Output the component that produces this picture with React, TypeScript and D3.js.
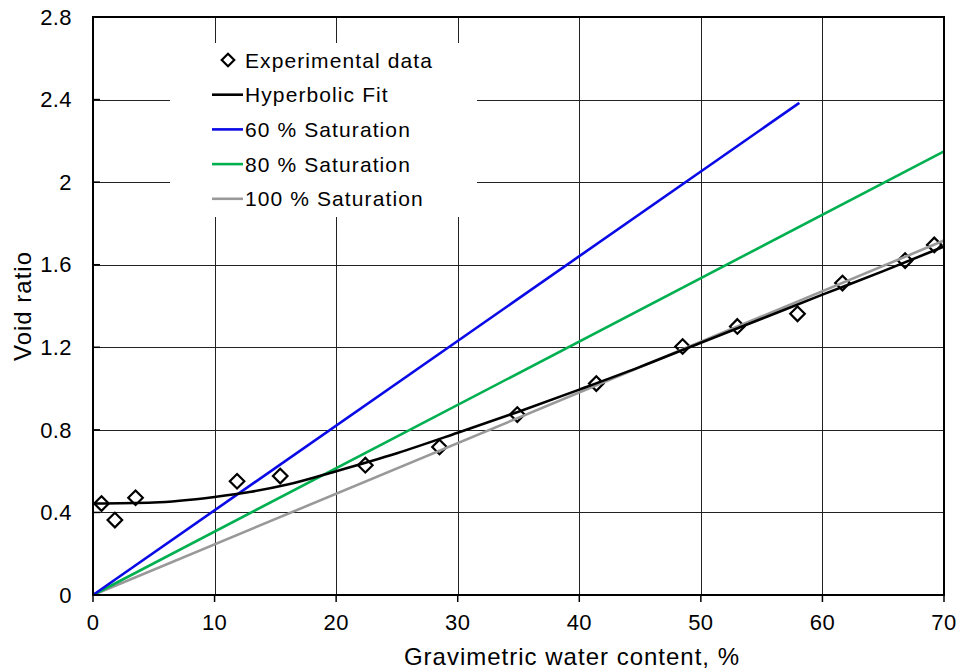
import React, { useEffect, useRef } from 'react';
import * as d3 from 'd3';

// experimental points: water content (%) and void ratio
const expW = [0.7, 1.8, 3.5, 11.85, 15.4, 22.4, 28.5, 34.9, 41.4, 48.5, 53.0, 57.95, 61.65, 66.8, 69.2];
const expE = [0.443, 0.363, 0.471, 0.551, 0.576, 0.629, 0.717, 0.874, 1.024, 1.204, 1.301, 1.362, 1.511, 1.62, 1.696];

// hyperbolic fit
const fitW = [0, 5, 10, 13, 16, 20, 25, 30, 35, 40, 45, 50, 55, 60, 65, 70];
const fitE = [0.443, 0.448, 0.475, 0.5, 0.535, 0.6, 0.687, 0.786, 0.888, 0.995, 1.105, 1.222, 1.338, 1.455, 1.569, 1.688];

// saturation lines (end points)
const sat60 = [[0, 0], [58.1, 2.384]];
const sat80 = [[0, 0], [70, 2.149]];
const sat100 = [[0, 0], [70, 1.717]];

const xTicks = [0, 10, 20, 30, 40, 50, 60, 70];
const yTicks = [0, 0.4, 0.8, 1.2, 1.6, 2, 2.4, 2.8];

const legendItems = [
  { label: 'Experimental data', color: '#000', kind: 'diamond' },
  { label: 'Hyperbolic Fit', color: '#000', kind: 'line' },
  { label: '60 % Saturation', color: '#0a0ae6', kind: 'line' },
  { label: '80 % Saturation', color: '#00b050', kind: 'line' },
  { label: '100 % Saturation', color: '#999999', kind: 'line' },
];

const W = 962;
const H = 672;
const font = '"Liberation Sans", Arial, sans-serif';

export default function App() {
  const ref = useRef<SVGSVGElement>(null);

  useEffect(() => {
    const svg = d3.select(ref.current);
    svg.selectAll('*').remove();

    const x = d3.scaleLinear().domain([0, 70]).range([93, 944]);
    const y = d3.scaleLinear().domain([0, 2.8]).range([595, 17]);

    // grid
    const grid = svg.append('g').attr('stroke', '#222').attr('stroke-width', 1);
    grid.selectAll('line.v').data(xTicks.slice(1, -1)).enter().append('line')
      .attr('x1', d => Math.round(x(d)) + 0.5).attr('x2', d => Math.round(x(d)) + 0.5)
      .attr('y1', y(0)).attr('y2', y(2.8));
    grid.selectAll('line.h').data(yTicks.slice(1, -1)).enter().append('line')
      .attr('y1', d => Math.round(y(d)) + 0.5).attr('y2', d => Math.round(y(d)) + 0.5)
      .attr('x1', x(0)).attr('x2', x(70));

    // legend box hides the grid behind it
    svg.append('rect').attr('x', 170).attr('y', 43).attr('width', 307).attr('height', 174).attr('fill', '#fff');

    // ticks: left inward, bottom outward
    const ticks = svg.append('g').attr('stroke', '#000').attr('stroke-width', 1.5);
    ticks.selectAll('line.yt').data(yTicks).enter().append('line')
      .attr('x1', x(0)).attr('x2', x(0) + 7)
      .attr('y1', d => y(d)).attr('y2', d => y(d));
    ticks.selectAll('line.xt').data(xTicks).enter().append('line')
      .attr('x1', d => x(d)).attr('x2', d => x(d))
      .attr('y1', y(0)).attr('y2', y(0) + 7);

    // diamonds
    const diamond = d3.symbol().type(d3.symbolDiamond2).size(135);
    svg.append('g').selectAll('path').data(expW).enter().append('path')
      .attr('d', diamond)
      .attr('transform', (d, i) => `translate(${x(d)},${y(expE[i])})`)
      .attr('fill', 'none').attr('stroke', '#000').attr('stroke-width', 2.2);

    const line = d3.line<number[]>().x(d => x(d[0])).y(d => y(d[1]));
    const lines = svg.append('g').attr('fill', 'none').attr('stroke-width', 2.6);
    lines.append('path').attr('d', line(sat100)).attr('stroke', legendItems[4].color);
    lines.append('path').attr('d', line(sat80)).attr('stroke', legendItems[3].color);
    lines.append('path').attr('d', line(sat60)).attr('stroke', legendItems[2].color);
    const fitLine = d3.line<number>().x(d => x(d)).y((d, i) => y(fitE[i])).curve(d3.curveMonotoneX);
    lines.append('path').attr('d', fitLine(fitW)).attr('stroke', '#000');

    // frame
    svg.append('rect').attr('x', x(0)).attr('y', y(2.8))
      .attr('width', x(70) - x(0)).attr('height', y(0) - y(2.8))
      .attr('fill', 'none').attr('stroke', '#000').attr('stroke-width', 2);

    // tick labels
    const labels = svg.append('g').attr('font-family', font).attr('font-size', 22).attr('fill', '#000');
    labels.selectAll('text.yl').data(yTicks).enter().append('text')
      .attr('x', 72).attr('y', d => y(d)).attr('dy', '0.35em')
      .attr('text-anchor', 'end').attr('letter-spacing', 0.4)
      .text(d => d === 0 || d === 2 ? String(d) : d.toFixed(1));
    labels.selectAll('text.xl').data(xTicks).enter().append('text')
      .attr('x', d => x(d)).attr('y', 630)
      .attr('text-anchor', 'middle').attr('letter-spacing', 0.4)
      .text(d => String(d));

    // axis titles
    svg.append('text').attr('x', 572).attr('y', 665)
      .attr('text-anchor', 'middle').attr('font-family', font).attr('font-size', 24)
      .attr('letter-spacing', 1).text('Gravimetric water content, %');
    svg.append('text').attr('transform', `translate(31,${(y(0) + y(2.8)) / 2}) rotate(-90)`)
      .attr('text-anchor', 'middle').attr('font-family', font).attr('font-size', 24)
      .attr('letter-spacing', 1).text('Void ratio');

    // legend
    const lg = svg.append('g').attr('font-family', font).attr('font-size', 21);
    legendItems.forEach((it, i) => {
      const cy = 60 + i * 34.7;
      if (it.kind === 'diamond') {
        lg.append('path').attr('d', d3.symbol().type(d3.symbolDiamond2).size(100)())
          .attr('transform', `translate(228,${cy})`)
          .attr('fill', 'none').attr('stroke', '#000').attr('stroke-width', 2.2);
      } else {
        lg.append('line').attr('x1', 212).attr('x2', 243).attr('y1', cy).attr('y2', cy)
          .attr('stroke', it.color).attr('stroke-width', 2.6);
      }
      lg.append('text').attr('x', 245).attr('y', cy).attr('dy', '0.36em')
        .attr('letter-spacing', 1.1).text(it.label);
    });
  }, []);

  return (
    <svg ref={ref} width={W} height={H}
      style={{ position: 'absolute', left: 0, top: 0, background: '#fff' }} />
  );
}
